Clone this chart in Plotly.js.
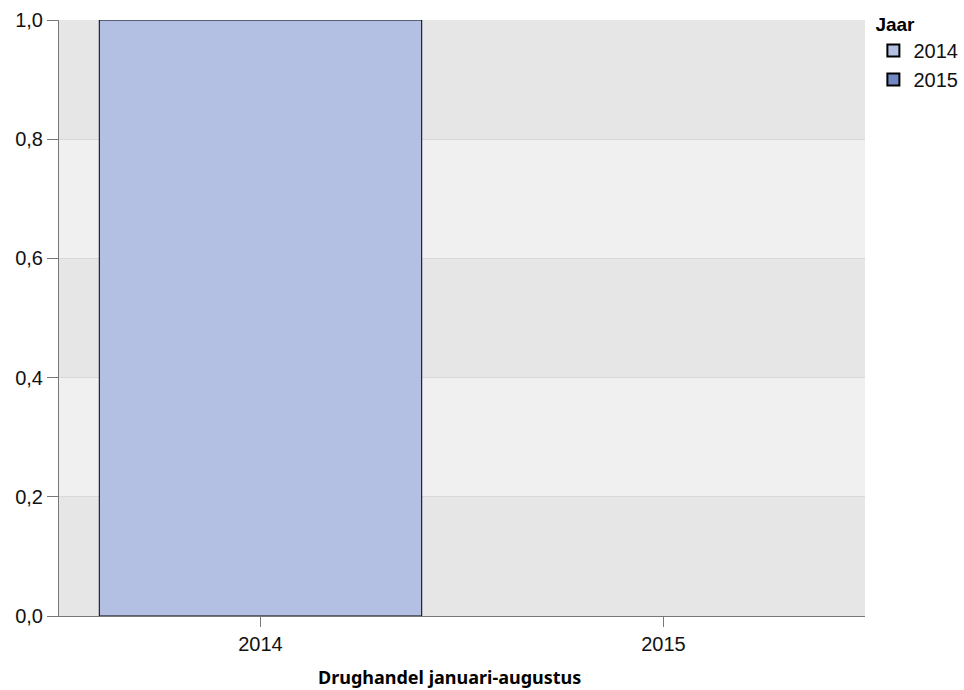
<!DOCTYPE html>
<html>
<head>
<meta charset="utf-8">
<script src="https://cdn.plot.ly/plotly-3.0.1.min.js"></script>
<style>html,body{margin:0;padding:0;background:#fff;}#chart{width:964px;height:690px;}</style>
</head>
<body>
<div id="chart"></div>
<script>
const categories = ['2014', '2015'];
const seriesNames = ['2014', '2015'];
const values2014 = [1];
const values2015 = [0];
const yTicks = [0, 0.2, 0.4, 0.6, 0.8, 1.0];
const xTitle = 'Drughandel januari-augustus';
const legendTitle = 'Jaar';
const colors = ['#b3c0e3', '#7089c4'];

const traces = [
  {type: 'bar', name: seriesNames[0], x: [categories[0]], y: values2014, width: 0.8, showlegend: false,
   marker: {color: colors[0], line: {color: '#000', width: 1}}},
  {type: 'bar', name: seriesNames[1], x: [categories[1]], y: values2015, width: 0.8, showlegend: false,
   marker: {color: colors[1], line: {color: 'rgba(0,0,0,0)', width: 0}}},
  // legend entries
  {type: 'bar', name: seriesNames[0], x: [categories[0]], y: [null], showlegend: true, hoverinfo: 'skip',
   marker: {color: colors[0], line: {color: '#000', width: 2}}},
  {type: 'bar', name: seriesNames[1], x: [categories[1]], y: [null], showlegend: true, hoverinfo: 'skip',
   marker: {color: colors[1], line: {color: '#000', width: 2}}}
];

const bands = [];
for (let i = 0; i < yTicks.length - 1; i++) {
  bands.push({type: 'rect', xref: 'paper', yref: 'y', x0: 0, x1: 1, y0: yTicks[i], y1: yTicks[i+1],
    fillcolor: (i % 2 === 0) ? '#e6e6e6' : '#f0f0f0', line: {width: 0}, layer: 'below'});
}

const layout = {
  width: 964, height: 690,
  margin: {l: 59, r: 99, t: 20, b: 74, pad: 0, autoexpand: false},
  paper_bgcolor: '#fff', plot_bgcolor: '#e6e6e6',
  separators: ',.',
  barmode: 'overlay',
  font: {family: 'Liberation Sans, Arial, sans-serif', size: 20, color: '#111'},
  shapes: bands,
  annotations: [{
    text: '<b>' + xTitle + '</b>', xref: 'paper', yref: 'paper', x: 0.484, y: -0.102,
    xanchor: 'center', yanchor: 'middle', showarrow: false,
    font: {family: 'Noto Sans, Open Sans, sans-serif', size: 18, color: '#000'}
  }],
  xaxis: {
    type: 'category', categoryorder: 'array', categoryarray: categories,
    range: [-0.5, 1.5], showgrid: false, zeroline: false,
    showline: true, linecolor: '#777', linewidth: 1,
    ticks: 'outside', ticklen: 10, tickcolor: '#777',
    tickfont: {family: 'Liberation Sans, Arial, sans-serif', size: 20, color: '#111'}
  },
  yaxis: {
    range: [0, 1], tickvals: yTicks, tickformat: '.1f',
    showgrid: true, gridcolor: '#d9d9d9', gridwidth: 1, zeroline: false,
    showline: true, linecolor: '#777', linewidth: 1,
    ticks: 'outside', ticklen: 11, tickcolor: '#777',
    tickfont: {family: 'Liberation Sans, Arial, sans-serif', size: 20, color: '#111'}
  },
  legend: {
    xref: 'container', yref: 'container',
    x: 0.906, y: 0.991, xanchor: 'left', yanchor: 'top',
    title: {text: '<b>' + legendTitle + '</b>', font: {family: 'Liberation Sans, Arial, sans-serif', size: 19, color: '#000'}},
    font: {family: 'Liberation Sans, Arial, sans-serif', size: 20, color: '#111'}, bgcolor: 'rgba(0,0,0,0)',
    itemwidth: 30, tracegroupgap: 0
  },
  showlegend: true
};

Plotly.newPlot('chart', traces, layout, {displayModeBar: false, staticPlot: true});
</script>
</body>
</html>
